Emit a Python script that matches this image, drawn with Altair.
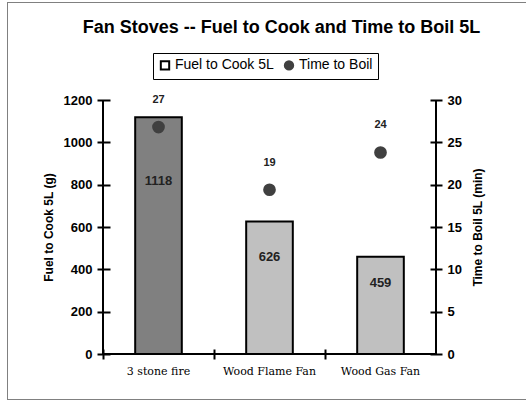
import altair as alt
import pandas as pd

categories = ["3 stone fire", "Wood Flame Fan", "Wood Gas Fan"]
fuel_g = [1118, 626, 459]
boil_min = [26.8, 19.4, 23.8]
series_names = ["Fuel to Cook 5L", "Time to Boil"]
left_ticks = [0, 200, 400, 600, 800, 1000, 1200]
right_ticks = [0, 5, 10, 15, 20, 25, 30]

df = pd.DataFrame({
    "category": categories,
    "fuel": fuel_g,
    "boil": boil_min,
    "series": [series_names[1]] * len(categories),
})

W, H = 333, 254
one = pd.DataFrame({"f": [0]})

x_axis = alt.Axis(
    title=None,
    bandPosition=0,
    labelAngle=0,
    labelFont="DejaVu Serif",
    labelFontSize=11,
    labelFontWeight="normal",
    labelPadding=6,
    tickSize=10,
    offset=-5,
    domain=False,
)
x_enc = alt.X(
    "category:N",
    sort=categories,
    scale=alt.Scale(paddingInner=0, paddingOuter=0),
    axis=x_axis,
)

left_axis = alt.Axis(
    title="Fuel to Cook 5L (g)",
    values=left_ticks,
    format="d",
    orient="left",
    titlePadding=8,
    tickSize=13,
    offset=-7,
    domain=False,
)
left_scale = alt.Scale(domain=[0, 1200], nice=False)

bars = alt.Chart(df).mark_bar(
    width={"band": 0.42}, stroke="black", strokeWidth=2
).encode(
    x=x_enc,
    y=alt.Y("fuel:Q", scale=left_scale, axis=left_axis),
    fill=alt.condition(
        alt.datum.category == categories[0], alt.value("#808080"), alt.value("#c0c0c0")
    ),
)

bar_labels = alt.Chart(df).transform_calculate(
    lab_y="datum.fuel * 0.73"
).mark_text(
    font="Liberation Sans", fontSize=13, fontWeight="bold", color="#222222"
).encode(
    x=x_enc,
    y=alt.Y("lab_y:Q", scale=left_scale, axis=left_axis),
    text=alt.Text("fuel:Q", format="d"),
)

left = alt.layer(bars, bar_labels)

right_axis = alt.Axis(
    title="Time to Boil 5L (min)",
    values=right_ticks,
    format="d",
    orient="right",
    titleAngle=270,
    titleBaseline="top",
    titlePadding=11,
    tickSize=12,
    offset=-6,
    domain=False,
)
right_scale = alt.Scale(domain=[0, 30], nice=False)

points = alt.Chart(df).mark_point(filled=True, size=115, opacity=1).encode(
    x=x_enc,
    y=alt.Y("boil:Q", scale=right_scale, axis=right_axis),
    shape=alt.Shape(
        "series:N",
        scale=alt.Scale(domain=series_names, range=["square", "circle"]),
        legend=alt.Legend(
            title=None,
            orient="none",
            legendX=50,
            legendY=-47,
            direction="horizontal",
            strokeColor="black",
            padding=5,
            labelFont="Liberation Sans",
            labelFontSize=14,
            symbolSize=70,
            symbolStrokeWidth=2,
            columnPadding=6,
            labelOffset=3,
        ),
    ),
    fill=alt.Fill(
        "series:N",
        scale=alt.Scale(domain=series_names, range=["white", "#404040"]),
    ),
    stroke=alt.Stroke(
        "series:N",
        scale=alt.Scale(domain=series_names, range=["black", "#404040"]),
    ),
)

point_labels = alt.Chart(df).mark_text(
    font="Liberation Sans", fontSize=11, fontWeight="bold", color="#222222", dy=-27
).encode(
    x=x_enc,
    y=alt.Y("boil:Q", scale=right_scale, axis=right_axis),
    text=alt.Text("boil:Q", format=".0f"),
)

right = alt.layer(points, point_labels)

# axis lines (domains) drawn as rules so that ticks can cross them
axis_style = dict(color="black", strokeWidth=2)
dom_left = alt.Chart(one).mark_rule(**axis_style).encode(
    x=alt.value(0), y=alt.value(0), y2=alt.value(H + 1)
)
dom_right = alt.Chart(one).mark_rule(**axis_style).encode(
    x=alt.value(W), y=alt.value(0), y2=alt.value(H + 1)
)
dom_bottom = alt.Chart(one).mark_rule(**axis_style).encode(
    x=alt.value(-1), x2=alt.value(W + 1), y=alt.value(H)
)

# outer chart-area frame (top, left, bottom edges)
frame_style = dict(color="#808080", strokeWidth=1)
fr_top = alt.Chart(one).mark_rule(**frame_style).encode(
    x=alt.value(-96), x2=alt.value(W + 100), y=alt.value(-97.5)
)
fr_left = alt.Chart(one).mark_rule(**frame_style).encode(
    x=alt.value(-95.5), y=alt.value(-98), y2=alt.value(300)
)
fr_bottom = alt.Chart(one).mark_rule(**frame_style).encode(
    x=alt.value(-96), x2=alt.value(W + 100), y=alt.value(299.5)
)

chart = alt.layer(
    fr_top, fr_left, fr_bottom, left, right, dom_left, dom_right, dom_bottom
).resolve_scale(
    y="independent"
).properties(
    width=W,
    height=H,
    title=alt.TitleParams(
        "Fan Stoves -- Fuel to Cook and Time to Boil 5L",
        font="Liberation Sans",
        fontSize=18,
        fontWeight="bold",
        anchor="middle",
        dx=12,
        dy=35,
        offset=0,
        color="black",
    ),
    autosize=alt.AutoSizeParams(type="none"),
    padding={"left": 103, "top": 100, "right": 90, "bottom": 48},
).configure_view(
    stroke=None
).configure_axis(
    grid=False,
    tickColor="black",
    tickWidth=2,
    labelColor="black",
    labelFont="Liberation Sans",
    labelFontSize=13,
    labelFontWeight="bold",
    labelPadding=5,
    titleFont="Liberation Sans",
    titleFontSize=12,
    titleFontWeight="bold",
    titleColor="black",
)

chart.save("out.html", embed_options={"renderer": "svg", "actions": False})
